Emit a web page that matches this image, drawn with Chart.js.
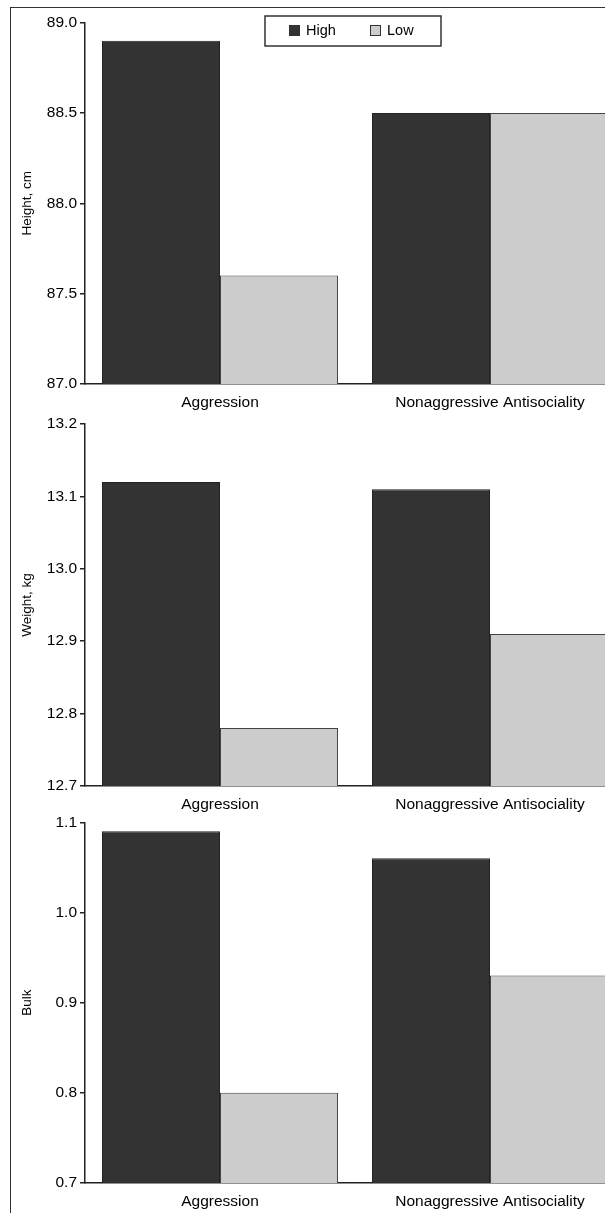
<!DOCTYPE html>
<html>
<head>
<meta charset="utf-8">
<script src="https://cdn.jsdelivr.net/npm/chart.js@4/dist/chart.umd.min.js"></script>
<style>
  html, body { margin: 0; padding: 0; background: #fff; overflow: hidden; width: 605px; height: 1213px; }
  #frame { position: absolute; left: 10px; top: 7px; width: 800px; height: 1400px;
           border-left: 1.5px solid #333; border-top: 1.5px solid #333; }
  .wrap { position: absolute; left: 0; width: 625px; }
  canvas { display: block; }
</style>
</head>
<body>
<div id="frame"></div>
<div class="wrap" id="w1" style="top:0px;height:414px"><canvas id="c1"></canvas></div>
<div class="wrap" id="w2" style="top:400px;height:416px"><canvas id="c2"></canvas></div>
<div class="wrap" id="w3" style="top:798px;height:415px"><canvas id="c3"></canvas></div>
<script>
// ---- data ----
const categories = ['Aggression', 'Nonaggressive Antisociality'];
const seriesNames = ['High', 'Low'];

const heightHigh = [88.9, 88.5];
const heightLow  = [87.6, 88.5];
const heightTicks = ['87.0', '87.5', '88.0', '88.5', '89.0'];

const weightHigh = [13.12, 13.11];
const weightLow  = [12.78, 12.91];
const weightTicks = ['12.7', '12.8', '12.9', '13.0', '13.1', '13.2'];

const bulkHigh = [1.09, 1.06];
const bulkLow  = [0.80, 0.93];
const bulkTicks = ['0.7', '0.8', '0.9', '1.0', '1.1'];

// ---- styling ----
const FONT = "'Liberation Sans', Arial, sans-serif";
const HIGH_COLOR = '#333333';
const LOW_COLOR = '#cccccc';
const AXIS_COLOR = '#222222';
const TEXT_COLOR = '#000000';

const legendPlugin = {
  id: 'boxLegend',
  afterDraw(chart, args, opts) {
    if (!opts || !opts.show) return;
    const ctx = chart.ctx;
    ctx.save();
    ctx.fillStyle = '#fff';
    ctx.fillRect(265, 16, 176, 30);
    ctx.strokeStyle = '#333';
    ctx.lineWidth = 1.5;
    ctx.strokeRect(265, 16, 176, 30);
    const xs = [289, 370];
    ctx.font = '14.5px ' + FONT;
    ctx.textBaseline = 'middle';
    chart.data.datasets.forEach((ds, i) => {
      ctx.fillStyle = ds.backgroundColor;
      ctx.fillRect(xs[i], 25, 11, 11);
      ctx.strokeStyle = '#333';
      ctx.lineWidth = 1;
      ctx.strokeRect(xs[i] + 0.5, 25.5, 10, 10);
      ctx.fillStyle = TEXT_COLOR;
      ctx.fillText(ds.label, xs[i] + 17, 31);
    });
    ctx.restore();
  }
};

function makeChart(id, high, low, ticks, title, padTop, showLegend) {
  const tickVals = ticks.map(parseFloat);
  return new Chart(document.getElementById(id), {
    type: 'bar',
    data: {
      labels: categories,
      datasets: [
        { label: seriesNames[0], data: high, backgroundColor: HIGH_COLOR, borderColor: '#222', borderWidth: 1 },
        { label: seriesNames[1], data: low, backgroundColor: LOW_COLOR, borderColor: '#444', borderWidth: 1 }
      ]
    },
    options: {
      responsive: true,
      maintainAspectRatio: false,
      animation: false,
      events: [],
      layout: { padding: { top: padTop, left: 0, right: 0, bottom: 0 } },
      datasets: { bar: { barPercentage: 1.0, categoryPercentage: 0.874 } },
      plugins: {
        legend: { display: false },
        tooltip: { enabled: false },
        boxLegend: { show: showLegend }
      },
      scales: {
        x: {
          grid: { display: true, drawOnChartArea: false, drawTicks: false },
          border: { display: true, color: AXIS_COLOR, width: 1.5 },
          ticks: { color: TEXT_COLOR, font: { family: FONT, size: 15.5 }, padding: 9, maxRotation: 0, autoSkip: false },
          afterFit(scale) { scale.height = 30; }
        },
        y: {
          min: tickVals[0],
          max: tickVals[tickVals.length - 1],
          afterBuildTicks(scale) { scale.ticks = tickVals.map(v => ({ value: v })); },
          grid: { display: true, drawOnChartArea: false, drawTicks: true, tickLength: 5, color: AXIS_COLOR, lineWidth: 1.5 },
          border: { display: true, color: AXIS_COLOR, width: 1.5 },
          ticks: {
            color: TEXT_COLOR,
            font: { family: FONT, size: 15.5 },
            padding: 3,
            callback(value, index) { return ticks[index]; }
          },
          title: { display: true, text: title, color: TEXT_COLOR, font: { family: FONT, size: 13.5 }, padding: { top: 19, bottom: 0 } },
          afterFit(scale) { scale.width = 85; }
        }
      }
    },
    plugins: [legendPlugin]
  });
}

makeChart('c1', heightHigh, heightLow, heightTicks, 'Height, cm', 22.7, true);
makeChart('c2', weightHigh, weightLow, weightTicks, 'Weight, kg', 24, false);
makeChart('c3', bulkHigh, bulkLow, bulkTicks, 'Bulk', 24.3, false);
</script>
</body>
</html>
